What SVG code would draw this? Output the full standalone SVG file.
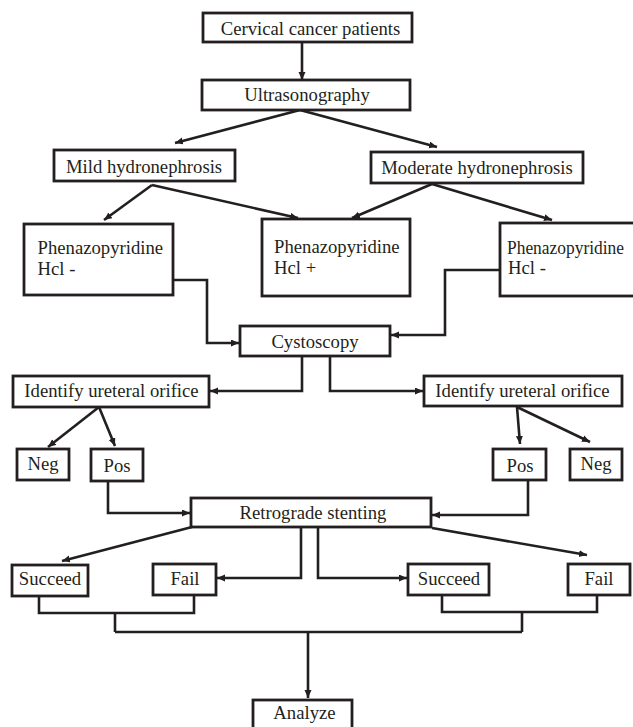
<svg xmlns="http://www.w3.org/2000/svg" width="633" height="727" viewBox="0 0 633 727">
<style>
.box{fill:#fff;stroke:#231f20;stroke-width:2.8}
.t{font-family:"Liberation Serif","Times New Roman",serif;font-size:18.7px;fill:#231f20;text-anchor:middle}
.ts{font-family:"Liberation Serif","Times New Roman",serif;font-size:18.7px;fill:#231f20}
.c{fill:none;stroke:#231f20;stroke-width:2.6}
.a{marker-end:url(#ah)}
</style>
<defs>
<marker id="ah" markerUnits="userSpaceOnUse" markerWidth="9" markerHeight="8" refX="8" refY="3.5" orient="auto">
<path d="M0,0 L8,3.5 L0,7 z" fill="#231f20"/>
</marker>
</defs>
<rect width="633" height="727" fill="#fff"/>
<g id="connectors">
<path class="c a" d="M302,42 V80"/>
<path class="c a" d="M300,110 L175,143"/>
<path class="c a" d="M300,110 L437,147"/>
<path class="c a" d="M152,185 L104,220"/>
<path class="c a" d="M152,185 L298,218"/>
<path class="c a" d="M432,184 L352,218"/>
<path class="c a" d="M432,184 L552,220"/>
<path class="c a" d="M173,280 H207 V343 H239"/>
<path class="c a" d="M500,270 H445 V335 H391"/>
<path class="c a" d="M302,356 V391 H210"/>
<path class="c a" d="M330,356 V391 H423"/>
<path class="c a" d="M99,407 L48,447"/>
<path class="c a" d="M99,407 L115,446"/>
<path class="c a" d="M517,407 L520,444"/>
<path class="c a" d="M517,407 L590,442"/>
<path class="c a" d="M108,481 V513 H190"/>
<path class="c a" d="M528,480 V515 H432"/>
<path class="c a" d="M192,527 L62,561"/>
<path class="c a" d="M301,527 V578 H217"/>
<path class="c a" d="M318,527 V578 H407"/>
<path class="c a" d="M432,528 L587,555"/>
<path class="c" d="M39,596 V613 H194 V595 M115,613 V632"/>
<path class="c" d="M442,595 V612 H597 V594 M522,612 V632"/>
<path class="c" d="M115,632 H522"/>
<path class="c a" d="M308,632 V698"/>
</g>
<g id="cervical"><rect class="box" x="203" y="13" width="209" height="29"/><text class="t" x="310.5" y="35">Cervical cancer patients</text></g>
<g id="ultrasonography"><rect class="box" x="202" y="80" width="208" height="30"/><text class="t" x="307" y="101">Ultrasonography</text></g>
<g id="mild"><rect class="box" x="54" y="150" width="181" height="31"/><text class="t" x="144" y="173">Mild hydronephrosis</text></g>
<g id="moderate"><rect class="box" x="371" y="152" width="212" height="31"/><text class="t" x="477" y="174">Moderate hydronephrosis</text></g>
<g id="phen1"><rect class="box" x="24" y="224" width="149" height="71"/><text class="ts" x="37.5" y="254">Phenazopyridine</text><text class="ts" x="37.5" y="275">Hcl -</text></g>
<g id="phen2"><rect class="box" x="262" y="219" width="148" height="77"/><text class="ts" x="274" y="253">Phenazopyridine</text><text class="ts" x="274" y="274">Hcl +</text></g>
<g id="phen3"><rect class="box" x="500" y="223" width="150" height="73"/><text class="ts" x="507" y="254" textLength="117" lengthAdjust="spacingAndGlyphs">Phenazopyridine</text><text class="ts" x="508" y="274">Hcl -</text></g>
<g id="cystoscopy"><rect class="box" x="240" y="326" width="150" height="30"/><text class="t" x="315" y="348">Cystoscopy</text></g>
<g id="identify-left"><rect class="box" x="13" y="376" width="196" height="31"/><text class="t" x="111.5" y="397">Identify ureteral orifice</text></g>
<g id="identify-right"><rect class="box" x="424" y="376" width="198" height="30"/><text class="t" x="522.5" y="397">Identify ureteral orifice</text></g>
<g id="neg-left"><rect class="box" x="17" y="449" width="52" height="31"/><text class="t" x="43" y="470">Neg</text></g>
<g id="pos-left"><rect class="box" x="91" y="449" width="52" height="32"/><text class="t" x="117" y="471.5">Pos</text></g>
<g id="pos-right"><rect class="box" x="493" y="449" width="53" height="31"/><text class="t" x="520" y="471.5">Pos</text></g>
<g id="neg-right"><rect class="box" x="570" y="449" width="52" height="31"/><text class="t" x="596" y="470">Neg</text></g>
<g id="retrograde"><rect class="box" x="191" y="498" width="240" height="29"/><text class="t" x="313" y="518.5">Retrograde stenting</text></g>
<g id="succeed-left"><rect class="box" x="12" y="565" width="76" height="31"/><text class="t" x="50" y="585">Succeed</text></g>
<g id="fail-left"><rect class="box" x="153" y="564" width="63" height="31"/><text class="t" x="185" y="585">Fail</text></g>
<g id="succeed-right"><rect class="box" x="408" y="564" width="81" height="31"/><text class="t" x="449" y="585">Succeed</text></g>
<g id="fail-right"><rect class="box" x="568" y="564" width="62" height="31"/><text class="t" x="599" y="585">Fail</text></g>
<g id="analyze"><rect class="box" x="253" y="700" width="99" height="40"/><text class="t" x="304.5" y="719">Analyze</text></g>
</svg>
